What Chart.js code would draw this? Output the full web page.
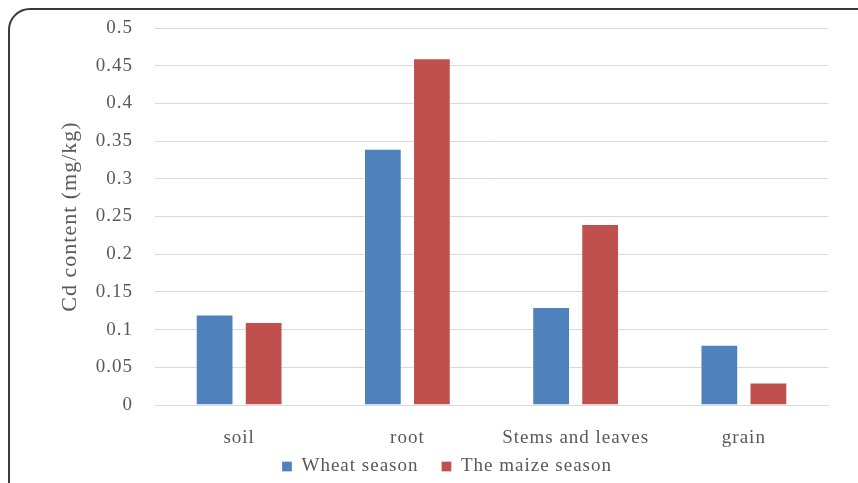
<!DOCTYPE html>
<html>
<head>
<meta charset="utf-8">
<script src="https://cdn.jsdelivr.net/npm/chart.js@4/dist/chart.umd.min.js"></script>
<style>
  html, body { margin: 0; padding: 0; background: #ffffff; overflow: hidden; }
  #wrap { position: relative; width: 858px; height: 483px; overflow: hidden; }
  #frame {
    position: absolute; left: 8px; top: 8px; width: 880px; height: 500px;
    border: 2px solid #3a3a3a; border-radius: 22px; box-sizing: border-box;
    pointer-events: none;
  }
  canvas { position: absolute; left: 0; top: 0; }
</style>
</head>
<body>
<div id="wrap">
  <canvas id="c" width="858" height="483"></canvas>
  <div id="frame"></div>
</div>
<script>
// Cd content by plant part (mg/kg)
const categories = ['soil', 'root', 'Stems and leaves', 'grain'];
const wheatSeason = [0.12, 0.34, 0.13, 0.08];
const maizeSeason = [0.11, 0.46, 0.24, 0.03];
const seriesNames = ['Wheat season', 'The maize season'];
const yTitle = 'Cd content (mg/kg)';

const FONT = "'Liberation Serif', 'Times New Roman', serif";
const TEXT = '#595959';
const GRID = '#d9d9d9';

// slightly spaced glyphs, as in office-style chart text
const spacing = {
  id: 'spacing',
  beforeLayout(chart) { chart.ctx.letterSpacing = '1px'; },
  beforeDraw(chart) { chart.ctx.letterSpacing = '1px'; }
};

// legend sits a little right of the canvas centre and just under the axis labels
const legendShift = {
  id: 'legendShift',
  afterLayout(chart) {
    const lg = chart.legend;
    if (!lg) return;
    const dx = 17, dy = -17;
    lg.left += dx; lg.right += dx;
    lg.top += dy; lg.bottom += dy;
  }
};

new Chart(document.getElementById('c'), {
  type: 'bar',
  data: {
    labels: categories,
    datasets: [
      { label: seriesNames[0], data: wheatSeason, backgroundColor: '#4f81bd',
        borderColor: 'rgba(255,255,255,0.3)', borderWidth: 1 },
      { label: seriesNames[1], data: maizeSeason, backgroundColor: '#c0504d',
        borderColor: 'rgba(255,255,255,0.3)', borderWidth: 1 }
    ]
  },
  options: {
    responsive: false,
    animation: false,
    devicePixelRatio: 1,
    layout: { padding: { left: 32, right: 30, top: 28, bottom: -20 } },
    datasets: { bar: { categoryPercentage: 0.583, barPercentage: 0.77 } },
    plugins: {
      legend: {
        position: 'bottom',
        labels: {
          font: { family: FONT, size: 19 },
          color: TEXT,
          boxWidth: 10,
          boxHeight: 10,
          padding: 23
        }
      },
      tooltip: { enabled: false }
    },
    scales: {
      x: {
        grid: { display: false, drawTicks: false },
        border: { display: true, color: GRID, width: 1 },
        ticks: { font: { family: FONT, size: 19 }, color: TEXT, padding: 22, maxRotation: 0 },
        afterFit(scale) { scale.height = 46; }
      },
      y: {
        min: 0, max: 0.5,
        grid: { color: GRID, lineWidth: 1, drawTicks: false },
        border: { display: false },
        ticks: {
          stepSize: 0.05,
          font: { family: FONT, size: 19 },
          color: TEXT,
          padding: 22,
          callback: v => String(Math.round(v * 100) / 100)
        },
        title: {
          display: true,
          text: yTitle,
          font: { family: FONT, size: 22 },
          color: TEXT,
          padding: { top: 25, bottom: 0 }
        },
        afterFit(scale) {
          scale.width = 123;
          scale.paddingTop = 0;
          scale.paddingBottom = 0;
        }
      }
    }
  },
  plugins: [spacing, legendShift]
});
</script>
</body>
</html>
